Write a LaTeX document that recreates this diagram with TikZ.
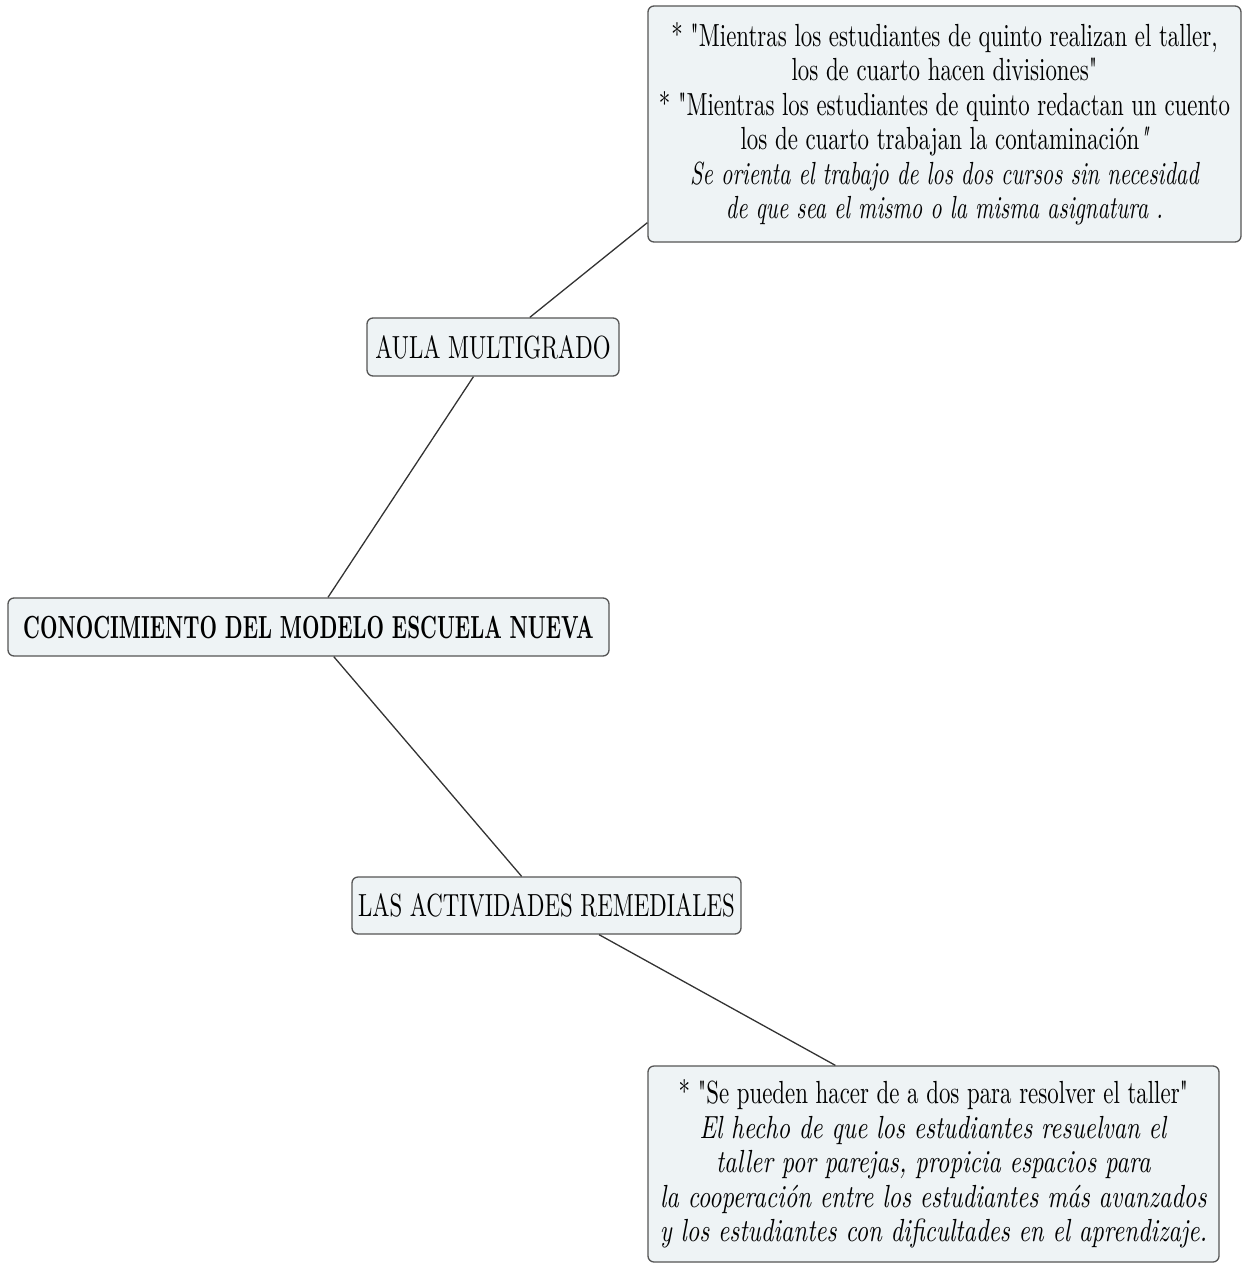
\documentclass[tikz,border=0pt]{standalone}
\usepackage{fontspec}
\setmainfont{lmroman10-regular.otf}[Ligatures=TeXOff,BoldFont=lmroman10-bold.otf,ItalicFont=lmroman10-italic.otf,
  UprightFeatures={FakeStretch=0.715},BoldFeatures={FakeStretch=0.633},ItalicFeatures={FakeStretch=0.767}]
\newfontfamily\itnarrow{lmroman10-italic.otf}[Ligatures=TeXOff,FakeStretch=0.70]
\definecolor{boxfill}{HTML}{EEF3F5}
\definecolor{boxline}{HTML}{555555}
\begin{document}
\begin{tikzpicture}[x=1pt,y=-1pt,
  box/.style={draw=boxline, line width=1.3pt, rounded corners=6pt, fill=boxfill,
    inner sep=0pt, align=center, font=\fontsize{32}{34.5}\selectfont},
  link/.style={draw=black!80, line width=1.3pt}]
\useasboundingbox (0,0) rectangle (1242,1264);
\node[box, minimum width=593pt, minimum height=236pt] (top) at (944.5,124)
  {* "Mientras los estudiantes de quinto realizan el taller,\\
   los de cuarto hacen divisiones"\\
   * "Mientras los estudiantes de quinto redactan un cuento\\
   los de cuarto trabajan la contaminación{\itnarrow "}\\
   {\itnarrow Se orienta el trabajo de los dos cursos sin necesidad}\\
   {\itnarrow de que sea el mismo o la misma asignatura .}};
\node[box, minimum width=252pt, minimum height=58pt] (aula) at (493,347) {AULA MULTIGRADO};
\node[box, minimum width=601pt, minimum height=58pt] (conoc) at (308.5,627) {\textbf{CONOCIMIENTO DEL MODELO ESCUELA NUEVA}};
\node[box, minimum width=389pt, minimum height=57pt] (las) at (546.5,905.5) {LAS ACTIVIDADES REMEDIALES};
\node[box, minimum width=571pt, minimum height=196pt] (bottom) at (933.5,1164)
  {* "Se pueden hacer de a dos para resolver el taller"\\
   \textit{El hecho de que los estudiantes resuelvan el}\\
   \textit{taller por parejas, propicia espacios para}\\
   \textit{la cooperación entre los estudiantes más avanzados}\\
   \textit{y los estudiantes con dificultades en el aprendizaje.}};
\coordinate (topend) at ([yshift=20pt]top.south west);
\coordinate (botend) at ([xshift=188pt]bottom.north west);
\draw[link] (aula) -- (topend);
\draw[link] (conoc) -- (aula);
\draw[link] (conoc) -- (las);
\draw[link] (las) -- (botend);
\end{tikzpicture}
\end{document}
